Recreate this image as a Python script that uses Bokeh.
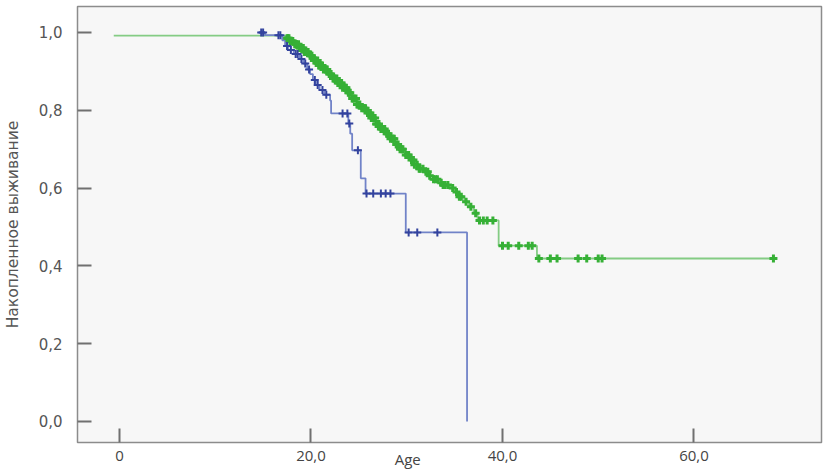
import numpy as np
from bokeh.plotting import figure
from bokeh.models import Range1d, FixedTicker, LinearAxis
from bokeh.embed import file_html
from bokeh.resources import INLINE

# ---- data ----
x_ticks = [0, 20, 40, 60]
x_tick_labels = ["0", "20,0", "40,0", "60,0"]
y_ticks = [0.0, 0.2, 0.4, 0.6, 0.8, 1.0]
y_tick_labels = ["0,0", "0,2", "0,4", "0,6", "0,8", "1,0"]
x_title = "Age"
y_title = "Накопленное выживание"

green_t = [-0.6, 17.3, 17.8, 18.3, 18.8, 19.3, 19.8, 20.3, 20.8, 21.3, 21.8, 22.3,
           22.8, 23.3, 23.8, 24.3, 24.8, 25.3, 25.8, 26.3, 26.8, 27.3, 27.8, 28.3,
           28.8, 29.3, 29.8, 30.3, 30.8, 31.3, 31.8, 32.3, 32.8, 33.3, 33.8, 34.5,
           35.0, 35.5, 36.0, 36.5, 37.0, 37.4, 39.6, 43.6, 68.3]
green_s = [0.992, 0.985, 0.978, 0.970, 0.960, 0.950, 0.940, 0.928, 0.915, 0.905, 0.893, 0.882,
           0.870, 0.858, 0.845, 0.830, 0.815, 0.805, 0.793, 0.780, 0.765, 0.752, 0.740, 0.727,
           0.712, 0.700, 0.685, 0.672, 0.660, 0.650, 0.642, 0.632, 0.623, 0.614, 0.608, 0.600,
           0.590, 0.578, 0.565, 0.552, 0.535, 0.517, 0.452, 0.419, 0.419]
green_censored = [17.5, 17.6, 17.7, 17.8, 17.9, 18.0, 18.1, 18.3, 18.4, 18.5, 18.7, 18.8,
                  18.9, 19.1, 19.2, 19.3, 19.5, 19.6, 19.7, 19.9, 20.0, 20.1, 20.3, 20.4,
                  20.5, 20.7, 20.8, 20.9, 21.1, 21.2, 21.3, 21.5, 21.6, 21.7, 21.9, 22.0,
                  22.1, 22.3, 22.4, 22.5, 22.7, 22.8, 22.9, 23.1, 23.2, 23.3, 23.5, 23.6,
                  23.7, 23.9, 24.0, 24.1, 24.3, 24.4, 24.5, 24.7, 24.8, 24.9, 25.1, 25.3,
                  25.5, 25.6, 25.7, 25.9, 26.1, 26.2, 26.3, 26.5, 26.7, 26.8, 26.9, 27.1,
                  27.3, 27.4, 27.5, 27.7, 27.9, 28.0, 28.1, 28.3, 28.5, 28.6, 28.7, 28.9,
                  29.1, 29.3, 29.5, 29.6, 29.9, 30.1, 30.2, 30.5, 30.7, 30.8, 31.1, 31.3,
                  31.4, 31.7, 32.0, 32.2, 32.4, 32.8, 33.0, 33.2, 33.6, 33.8, 34.0, 34.3,
                  34.8, 35.2, 35.5, 35.7, 36.2, 36.7, 37.2, 37.6, 38.0, 38.4, 39.0, 40.0,
                  40.6, 41.7, 42.7, 43.1, 43.8, 45.0, 45.7, 47.9, 48.8, 50.0, 50.4, 68.3]

blue_t = [14.5, 15.2, 17.0, 17.3, 17.6, 18.2, 18.8, 19.2, 19.6, 19.9, 20.2, 20.5,
          20.9, 21.4, 22.0, 22.1, 23.9, 24.1, 24.3, 25.2, 25.7, 29.9, 36.3]
blue_s = [1.0, 0.993, 0.980, 0.965, 0.955, 0.945, 0.932, 0.920, 0.905, 0.893, 0.878, 0.865,
          0.852, 0.840, 0.825, 0.792, 0.766, 0.740, 0.697, 0.625, 0.586, 0.486, 0.0]
blue_censored = [14.8, 15.0, 16.6, 16.8, 17.5, 17.9, 18.4, 18.6, 19.0, 19.4, 19.8, 20.4,
                 20.7, 21.2, 21.6, 23.3, 23.8, 24.0, 24.9, 25.8, 26.5, 27.3, 27.8, 28.3,
                 30.2, 31.1, 33.2]

GREEN_LINE = "#84cc84"
GREEN_MARK = "#36b036"
BLUE_LINE = "#7183c8"
BLUE_MARK = "#33439e"
AGE_LABEL_AT = 30.1  # horizontal place of the x title, in axis units


def surv_at(ts, ss, times):
    ts = np.asarray(ts)
    ss = np.asarray(ss)
    idx = np.searchsorted(ts, np.asarray(times), side="right") - 1
    idx = np.clip(idx, 0, len(ss) - 1)
    return ss[idx]


p = figure(width=827, height=471,
           x_range=Range1d(-4.386, 73.32), y_range=Range1d(-0.054, 1.0668),
           output_backend="svg", toolbar_location=None,
           min_border_left=77, min_border_right=6, min_border_top=6, min_border_bottom=28)

p.background_fill_color = "#f7f7f7"
p.border_fill_color = "white"
p.outline_line_color = "#8c8c8c"
p.outline_line_width = 1.5
p.grid.visible = False

p.xaxis.ticker = FixedTicker(ticks=x_ticks)
p.xaxis.major_label_overrides = dict(zip(x_ticks, x_tick_labels))
p.yaxis.ticker = FixedTicker(ticks=y_ticks)
p.yaxis.major_label_overrides = dict(zip(y_ticks, y_tick_labels))

for ax in (p.xaxis[0], p.yaxis[0]):
    ax.axis_line_color = None
    ax.major_tick_in = 14
    ax.major_tick_out = 0
    ax.major_tick_line_color = "#707070"
    ax.major_tick_line_width = 2
    ax.minor_tick_line_color = None

p.xaxis.major_label_text_font = "Open Sans"
p.xaxis.major_label_text_font_size = "15px"
p.xaxis.major_label_text_color = "#444444"
p.xaxis.major_label_standoff = 8

p.yaxis.major_label_text_font = "DejaVu Sans"
p.yaxis.major_label_text_font_size = "15px"
p.yaxis.major_label_text_color = "#555555"
p.yaxis.major_label_standoff = 15
p.yaxis.axis_label = y_title
p.yaxis.axis_label_text_font = "DejaVu Sans"
p.yaxis.axis_label_text_font_size = "15.5px"
p.yaxis.axis_label_text_font_style = "normal"
p.yaxis.axis_label_text_color = "#555555"
p.yaxis.axis_label_standoff = 14

# x title sits in the tick-label row, placed through a second (tick-less) axis
age_axis = LinearAxis(ticker=FixedTicker(ticks=[AGE_LABEL_AT]),
                      major_label_overrides={AGE_LABEL_AT: x_title},
                      axis_line_color=None, major_tick_line_color=None,
                      minor_tick_line_color=None, major_label_standoff=-21,
                      major_label_text_font="Open Sans", major_label_text_font_size="15px",
                      major_label_text_color="#444444")
p.add_layout(age_axis, "below")

# survival curves
p.step(green_t, green_s, mode="after", line_color=GREEN_LINE, line_width=1.8)
p.step(blue_t, blue_s, mode="after", line_color=BLUE_LINE, line_width=1.8)

# censor marks
p.scatter(green_censored, surv_at(green_t, green_s, green_censored), marker="cross",
          size=8, line_color=GREEN_MARK, line_width=3)
p.scatter(blue_censored, surv_at(blue_t, blue_s, blue_censored), marker="cross",
          size=8, line_color=BLUE_MARK, line_width=2)

open("out.html", "w").write(file_html(p, INLINE))
